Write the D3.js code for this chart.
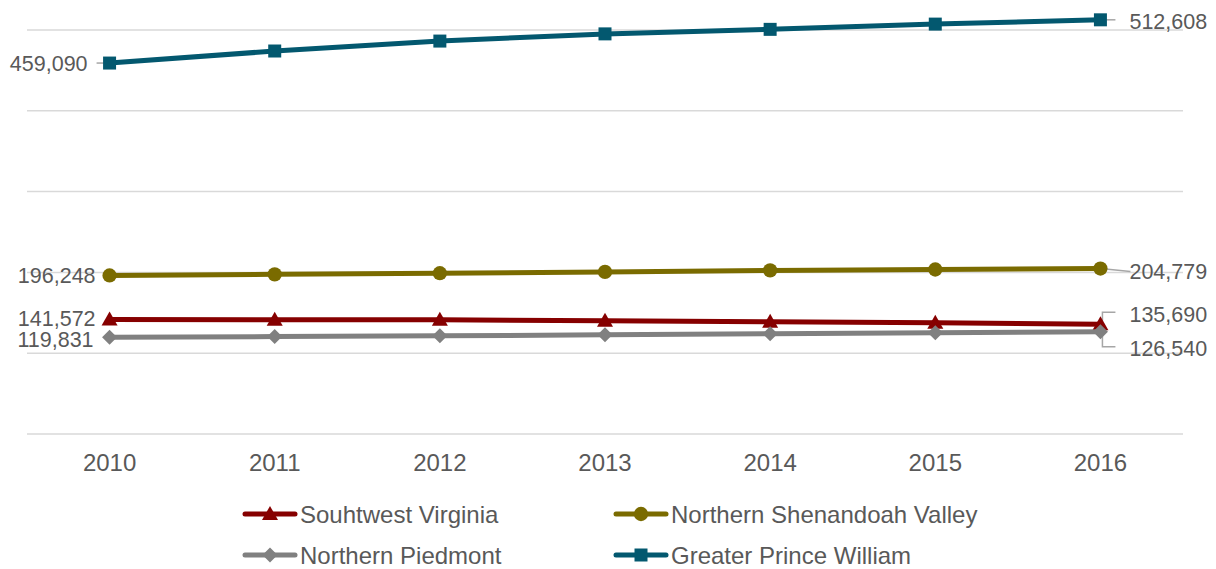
<!DOCTYPE html>
<html>
<head>
<meta charset="utf-8">
<script src="https://cdn.jsdelivr.net/npm/d3@7"></script>
<style>
  html, body { margin: 0; padding: 0; background: #fff; }
  svg { display: block; font-family: "Liberation Sans", Arial, sans-serif; }
</style>
</head>
<body>
<svg id="chart" width="1216" height="569"></svg>
<script>
const years = ["2010", "2011", "2012", "2013", "2014", "2015", "2016"];
const seriesNames = ["Souhtwest Virginia", "Northern Shenandoah Valley", "Northern Piedmont", "Greater Prince William"];
const southwestVirginia = [141572, 141500, 141300, 140100, 138900, 137600, 135690];
const northernShenandoah = [196248, 197600, 199000, 200600, 202500, 203600, 204779];
const northernPiedmont = [119831, 120600, 121500, 122700, 124000, 125400, 126540];
const greaterPrinceWilliam = [459090, 474000, 486300, 495200, 500800, 507300, 512608];
const yTicks = [0, 100000, 200000, 300000, 400000, 500000];

const colors = ["#860000", "#7a6b00", "#808080", "#03586f"];
const markers = ["triangle", "circle", "diamond", "square"];
const allValues = [southwestVirginia, northernShenandoah, northernPiedmont, greaterPrinceWilliam];
const series = seriesNames.map((name, i) => ({ name, values: allValues[i], color: colors[i], marker: markers[i] }));

const svg = d3.select("#chart");
const x = d3.scaleBand().domain(years).range([27, 1183]).padding(0);
const y = d3.scaleLinear().domain([0, 500000]).range([434, 30]);
const cx = d => x(d) + x.bandwidth() / 2;

// gridlines
svg.append("g").selectAll("line").data(yTicks).join("line")
  .attr("x1", 27).attr("x2", 1183)
  .attr("y1", d => y(d)).attr("y2", d => y(d))
  .attr("stroke", "#d9d9d9").attr("stroke-width", 1.5);

// x axis labels
const xAxis = d3.axisBottom(x).tickSize(0).tickPadding(0);
const gx = svg.append("g").attr("transform", "translate(0,434)").call(xAxis);
gx.select(".domain").remove();
gx.selectAll("text").attr("font-size", 24).attr("fill", "#595959")
  .attr("font-family", "'Liberation Sans', Arial, sans-serif")
  .attr("dy", null).attr("y", 37);

function markerPath(type) {
  if (type === "triangle") return "M0,-8L8,6L-8,6Z";
  if (type === "circle") return d3.symbol(d3.symbolCircle, 160)();
  if (type === "diamond") return "M0,-7.5L7.5,0L0,7.5L-7.5,0Z";
  return "M-6.5,-6.5H6.5V6.5H-6.5Z";
}

const line = d3.line().x((d, i) => cx(years[i])).y(d => y(d));

// leader lines (drawn under series)
const leaders = svg.append("g").attr("stroke", "#a6a6a6").attr("stroke-width", 1.5).attr("fill", "none");
const firstX = cx(years[0]), lastX = cx(years[years.length - 1]);
leaders.append("path").attr("d", `M${firstX - 13},${y(greaterPrinceWilliam[0])}H${firstX}`);
leaders.append("path").attr("d", `M${lastX},${y(greaterPrinceWilliam[6])}H${lastX + 15}`);
leaders.append("path").attr("d", `M${lastX},${y(northernShenandoah[6])}L${lastX + 30},${y(northernShenandoah[6]) + 3}`);
leaders.append("path").attr("d", `M${lastX + 2},${y(southwestVirginia[6])}V${y(southwestVirginia[6]) - 12}H${lastX + 15}`);
leaders.append("path").attr("d", `M${lastX + 2},${y(northernPiedmont[6])}V${y(northernPiedmont[6]) + 15}H${lastX + 15}`);

// series
series.forEach(s => {
  const g = svg.append("g");
  g.append("path").datum(s.values).attr("d", line)
    .attr("fill", "none").attr("stroke", s.color).attr("stroke-width", 5)
    .attr("stroke-linejoin", "round").attr("stroke-linecap", "round");
  g.selectAll("path.m").data(s.values).join("path").attr("class", "m")
    .attr("d", markerPath(s.marker))
    .attr("transform", (d, i) => `translate(${cx(years[i])},${y(d)})`)
    .attr("fill", s.color);
});

// data labels
const fmt = d3.format(",");
const labels = svg.append("g").attr("font-size", 21.5).attr("fill", "#595959");
function label(text, xPos, yPos, anchor) {
  labels.append("text").attr("x", xPos).attr("y", yPos).attr("text-anchor", anchor)
    .attr("dominant-baseline", "central").text(text);
}
label(fmt(greaterPrinceWilliam[0]), firstX - 22, y(greaterPrinceWilliam[0]) + 1, "end");
label(fmt(northernShenandoah[0]), firstX - 14, y(northernShenandoah[0]) + 1, "end");
label(fmt(southwestVirginia[0]), firstX - 14, y(southwestVirginia[0]) - 1, "end");
label(fmt(northernPiedmont[0]), firstX - 16, y(northernPiedmont[0]) + 3, "end");
label(fmt(greaterPrinceWilliam[6]), lastX + 29, y(greaterPrinceWilliam[6]) + 2, "start");
label(fmt(northernShenandoah[6]), lastX + 29, y(northernShenandoah[6]) + 3, "start");
label(fmt(southwestVirginia[6]), lastX + 29, y(southwestVirginia[6]) - 9, "start");
label(fmt(northernPiedmont[6]), lastX + 29, y(northernPiedmont[6]) + 17, "start");

// legend
const legendPos = [[243, 514], [614, 514], [243, 555], [614, 555]];
series.forEach((s, i) => {
  const [lx, ly] = legendPos[i];
  const g = svg.append("g").attr("transform", `translate(${lx},${ly})`);
  g.append("line").attr("x1", 2).attr("x2", 52).attr("y1", 0).attr("y2", 0)
    .attr("stroke", s.color).attr("stroke-width", 5).attr("stroke-linecap", "round");
  g.append("path").attr("d", markerPath(s.marker)).attr("transform", "translate(27,0)").attr("fill", s.color);
  g.append("text").attr("x", 57).attr("y", 0).attr("dominant-baseline", "central")
    .attr("font-size", 24).attr("fill", "#595959").text(s.name);
});
</script>
</body>
</html>
